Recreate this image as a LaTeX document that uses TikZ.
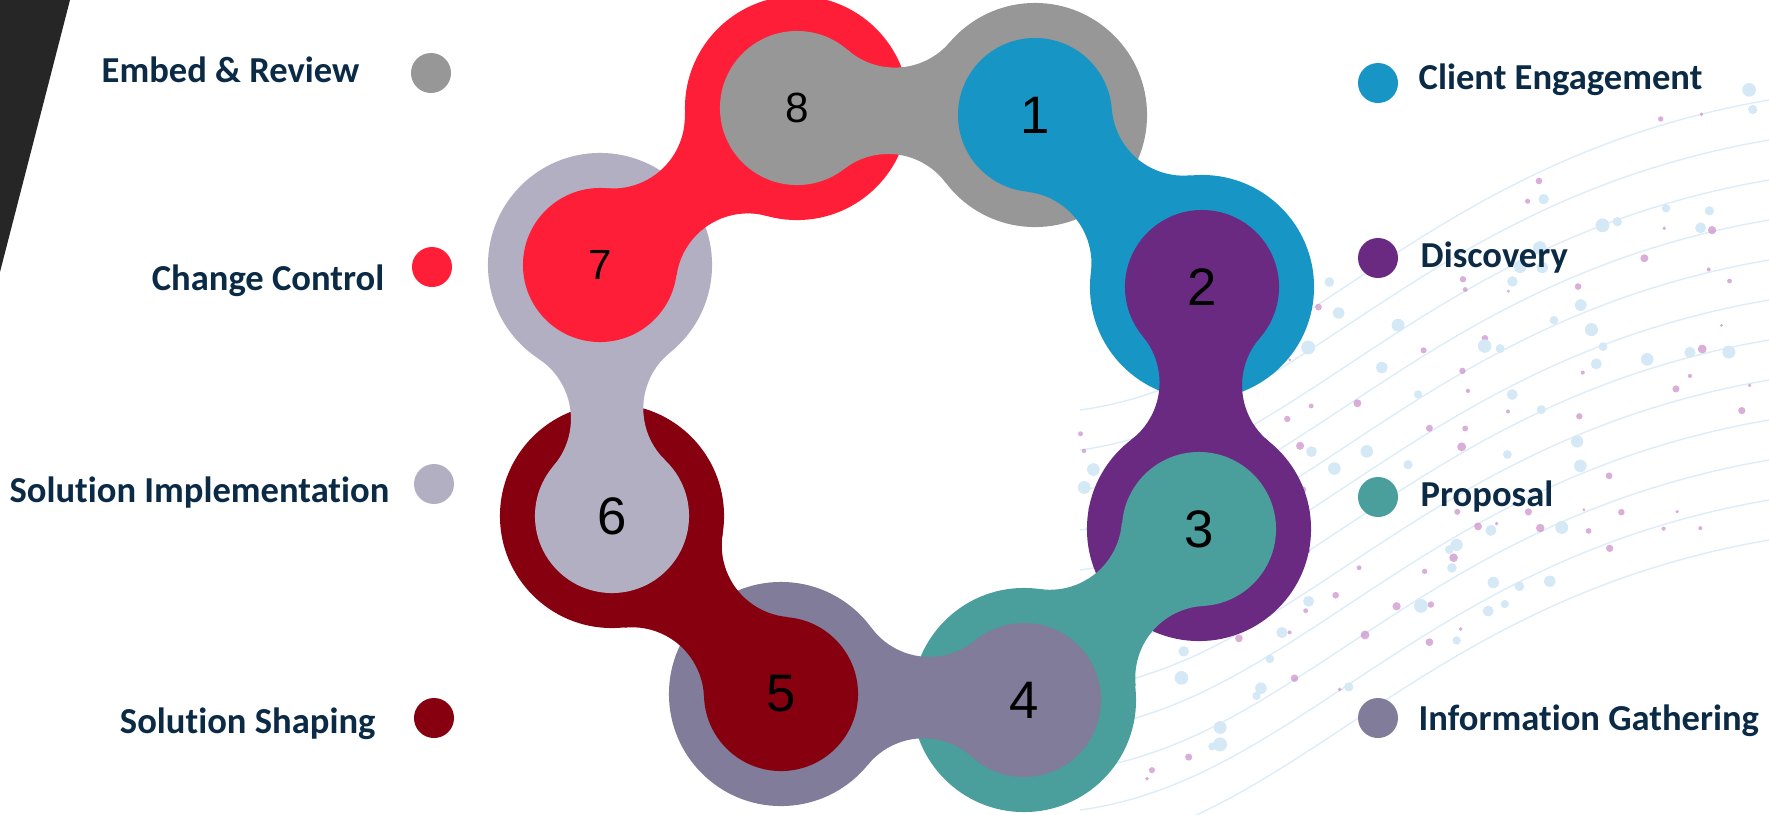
\documentclass[tikz,border=0pt]{standalone}
\usepackage{fontspec}
\setmainfont{Carlito}[Ligatures=NoCommon]
\newfontfamily\digitfont{Liberation Sans}
\usetikzlibrary{positioning, calc}

\definecolor{clientblue}{HTML}{1796C6}
\definecolor{discpurple}{HTML}{6B2A82}
\definecolor{propteal}{HTML}{4A9E9C}
\definecolor{infoslate}{HTML}{807C99}
\definecolor{shapered}{HTML}{860010}
\definecolor{implgrey}{HTML}{B2AFC2}
\definecolor{changered}{HTML}{FF1E37}
\definecolor{reviewgrey}{HTML}{979797}
\definecolor{labelnavy}{HTML}{0B2A46}
\definecolor{cornerdark}{HTML}{262626}
\definecolor{netblue}{HTML}{D5E8F6}
\definecolor{netpink}{HTML}{C98BC9}

\newcommand{\rsmall}{0.77cm}
\newcommand{\rbig}{1.12cm}
\newcommand{\rfillet}{0.72cm}

% waist joining the small disc at #1 to the big disc at #2
\newcommand{\necklink}[3]{%
  \fill[#3] let \p1 = (#1), \p2 = (#2),
    \n1 = {veclen(\x2-\x1,\y2-\y1)},
    \n2 = {atan2(\y2-\y1,\x2-\x1)},
    \n3 = {acos(((\rsmall+\rfillet)*(\rsmall+\rfillet)-(\rbig+\rfillet)*(\rbig+\rfillet)+\n1*\n1)/(2*\n1*(\rsmall+\rfillet)))},
    \n4 = {acos(((\rbig+\rfillet)*(\rbig+\rfillet)-(\rsmall+\rfillet)*(\rsmall+\rfillet)+\n1*\n1)/(2*\n1*(\rbig+\rfillet)))}
  in ($(\p1)+(\n2+\n3:\rsmall)$)
     arc[start angle=\n2+\n3+180, end angle=\n2+360-\n4, radius=\rfillet]
     -- ($(\p2)+(\n2+180+\n4:\rbig)$)
     arc[start angle=\n2+\n4, end angle=\n2+180-\n3, radius=\rfillet]
     -- cycle;}

\begin{document}
\begin{tikzpicture}[x=0.01cm, y=-0.01cm,
    bigdisc/.style={circle, minimum size=2.24cm, inner sep=0pt},
    stepdisc/.style={circle, minimum size=1.54cm, inner sep=0pt, font=\digitfont\fontsize{15}{18}\selectfont},
    keydot/.style={circle, minimum size=0.4cm, inner sep=0pt},
    keylabel/.style={font=\bfseries\fontsize{10.4}{12}\selectfont, text=labelnavy, inner sep=0pt},
    netline/.style={netblue, line width=0.4pt, opacity=0.8}
]
\useasboundingbox (0,0) rectangle (1769,814);

% dark corner
\fill[cornerdark] (0,0) -- (70,0) -- (0,272) -- cycle;

% faint network behind the right side
\foreach \k in {0,...,11}
  \draw[netline] (1080,850-40*\k) .. controls (1300,820-40*\k) and (1420,600-40*\k) .. (1769,540-40*\k);
\pgfmathsetseed{11}
\foreach \k in {1,...,170}{
  \pgfmathsetmacro\dx{1080+680*rnd}
  \pgfmathsetmacro\dy{810-0.45*(\dx-1080)-430*rnd}
  \pgfmathsetmacro\dr{1.5+3*rnd}
  \ifodd\k
    \fill[netpink, opacity=0.7] (\dx,\dy) circle[radius=\dr];
  \else
    \fill[netblue] (\dx,\dy) circle[radius=\dr+2.5];
  \fi
}

% stage centres
\coordinate (c1) at (1035,115);
\coordinate (c2) at (1202,287);
\coordinate (c3) at (1199,529);
\coordinate (c4) at (1024,700);
\coordinate (c5) at (781,694);
\coordinate (c6) at (612,516);
\coordinate (c7) at (600,265);
\coordinate (c8) at (797,108);

% outer discs
\foreach \i/\col in {1/reviewgrey, 2/clientblue, 3/discpurple, 4/propteal,
                     5/infoslate, 6/shapered, 7/implgrey, 8/changered}
  \node[bigdisc, fill=\col] (big\i) at (c\i) {};

% waists
\necklink{c1}{c2}{clientblue}
\necklink{c2}{c3}{discpurple}
\necklink{c3}{c4}{propteal}
\necklink{c4}{c5}{infoslate}
\necklink{c5}{c6}{shapered}
\necklink{c6}{c7}{implgrey}
\necklink{c7}{c8}{changered}
\necklink{c8}{c1}{reviewgrey}

% inner discs
\node[stepdisc, fill=clientblue] (s1) at (c1) {1};
\node[stepdisc, fill=discpurple] (s2) at (c2) {2};
\node[stepdisc, fill=propteal] (s3) at (c3) {3};
\node[stepdisc, fill=infoslate] (s4) at (c4) {4};
\node[stepdisc, fill=shapered] (s5) at (c5) {5};
\node[stepdisc, fill=implgrey] (s6) at (c6) {6};
\node[stepdisc, fill=changered, font=\digitfont\fontsize{12}{14}\selectfont] (s7) at (c7) {7};
\node[stepdisc, fill=reviewgrey, font=\digitfont\fontsize{12}{14}\selectfont] (s8) at (c8) {8};

% key, left
\node[keydot, fill=reviewgrey] (d8) at (431,73) {};
\node[keydot, fill=changered] (d7) at (432,267) {};
\node[keydot, fill=implgrey] (d6) at (434,484) {};
\node[keydot, fill=shapered] (d5) at (434,718) {};
\node[keylabel, anchor=base east] (t8) at (360,82) {Embed \& Review};
\node[keylabel, anchor=base east] (t7) at (385,290) {Change Control};
\node[keylabel, anchor=base east] (t6) at (390,502) {Solution Implementation};
\node[keylabel, anchor=base east] (t5) at (376,733) {Solution Shaping};

% key, right
\node[keydot, fill=clientblue] (d1) at (1378,83) {};
\node[keydot, fill=discpurple] (d2) at (1378,258) {};
\node[keydot, fill=propteal] (d3) at (1378,497) {};
\node[keydot, fill=infoslate] (d4) at (1378,718) {};
\node[keylabel, anchor=base west] (t1) at (1418,89) {Client Engagement};
\node[keylabel, anchor=base west] (t2) at (1420,267) {Discovery};
\node[keylabel, anchor=base west] (t3) at (1420,506) {Proposal};
\node[keylabel, anchor=base west] (t4) at (1418,730) {Information Gathering};
\end{tikzpicture}
\end{document}
